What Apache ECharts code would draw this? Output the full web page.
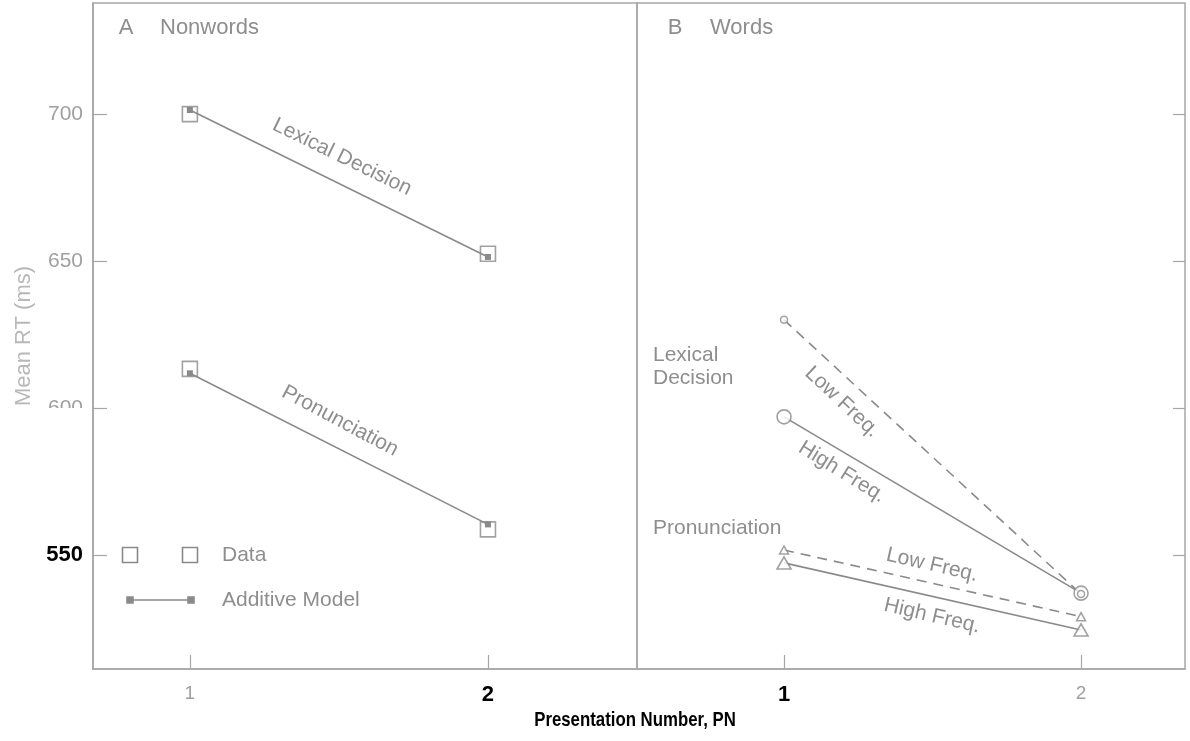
<!DOCTYPE html>
<html>
<head>
<meta charset="utf-8">
<script src="https://cdn.jsdelivr.net/npm/echarts@6/dist/echarts.min.js"></script>
<style>
  html, body { margin: 0; padding: 0; background: #fff; }
  #chart { width: 1190px; height: 741px; }
</style>
</head>
<body>
<div id="chart"></div>
<script>
// Presentation number (x) and RT tick values (y)
const pnTicks = [1, 2];
const rtTicks = [550, 600, 650, 700];

// Panel A – Nonwords: observed means and additive-model predictions
const nwLexicalData  = [700.0, 652.5];
const nwLexicalModel = [701.4, 651.4];
const nwPronData     = [613.3, 558.7];
const nwPronModel    = [611.8, 560.4];

// Panel B – Words: low / high frequency
const wLexicalLow  = [630.0, 536.7];
const wLexicalHigh = [597.0, 537.0];
const wPronLow     = [551.7, 529.0];
const wPronHigh    = [547.3, 524.5];

const pts = arr => arr.map((v, i) => [pnTicks[i], v]);

const LINE = '#8a8a8a';
const TEXT = '#8e8e8e';
const FRAME = '#a6a6a6';
const FONT = '"Liberation Sans", Arial, sans-serif';

const chart = echarts.init(document.getElementById('chart'));

function gridAxisX(idx, min, max, boldVal) {
  return {
    type: 'value', gridIndex: idx, min: min, max: max,
    axisLine: { show: true, lineStyle: { color: FRAME, width: 1.5 } },
    axisTick: { show: true, inside: true, length: 14, customValues: pnTicks,
                lineStyle: { color: FRAME, width: 1.2 } },
    axisLabel: {
      customValues: pnTicks, margin: 15,
      formatter: v => (v === boldVal ? '{b|' + v + '}' : '{g|' + v + '}'),
      rich: {
        g: { color: '#a0a0a0', fontSize: 19, fontFamily: FONT },
        b: { color: '#000', fontSize: 22, fontWeight: 'bold', fontFamily: FONT }
      }
    },
    splitLine: { show: false }
  };
}

const yMin = 511.2, yMax = 737.8;

const option = {
  backgroundColor: '#fff',
  animation: false,
  grid: [
    { left: 93, top: 3, width: 544, height: 666, show: true, borderColor: FRAME, borderWidth: 1.5 },
    { left: 637, top: 3, width: 548, height: 666, show: true, borderColor: FRAME, borderWidth: 1.5 }
  ],
  xAxis: [
    gridAxisX(0, 0.675, 2.5, 2),
    gridAxisX(1, 0.505, 2.35, 1)
  ],
  yAxis: [
    {
      type: 'value', gridIndex: 0, min: yMin, max: yMax, position: 'left',
      name: 'Mean RT (ms)', nameLocation: 'middle', nameGap: 58,
      nameTextStyle: { color: '#b8b8b8', fontSize: 22, fontFamily: FONT },
      axisLine: { show: true, lineStyle: { color: FRAME, width: 1.5 } },
      axisTick: { show: true, inside: true, length: 14, customValues: rtTicks,
                  lineStyle: { color: FRAME, width: 1.2 } },
      axisLabel: {
        customValues: rtTicks, margin: 10,
        formatter: v => (v === 550 ? '{b|' + v + '}' : '{g|' + v + '}'),
        rich: {
          g: { color: '#a0a0a0', fontSize: 21, fontFamily: FONT },
          b: { color: '#000', fontSize: 22, fontWeight: 'bold', fontFamily: FONT }
        }
      },
      splitLine: { show: false }
    },
    {
      type: 'value', gridIndex: 1, min: yMin, max: yMax, position: 'right',
      axisLine: { show: false },
      axisTick: { show: true, inside: true, length: 12, customValues: rtTicks,
                  lineStyle: { color: FRAME, width: 1.2 } },
      axisLabel: { show: false },
      splitLine: { show: false }
    }
  ],
  series: [
    // Panel A: additive model lines with small filled squares
    { type: 'line', xAxisIndex: 0, yAxisIndex: 0, data: pts(nwLexicalModel),
      symbol: 'rect', symbolSize: 6, showSymbol: true, z: 2,
      lineStyle: { color: LINE, width: 1.6 }, itemStyle: { color: LINE } },
    { type: 'line', xAxisIndex: 0, yAxisIndex: 0, data: pts(nwPronModel),
      symbol: 'rect', symbolSize: 6, showSymbol: true, z: 2,
      lineStyle: { color: LINE, width: 1.6 }, itemStyle: { color: LINE } },
    // Panel A: observed data, open squares
    { type: 'scatter', xAxisIndex: 0, yAxisIndex: 0, data: pts(nwLexicalData),
      symbol: 'rect', symbolSize: 15, z: 3,
      itemStyle: { color: 'rgba(0,0,0,0)', borderColor: LINE, borderWidth: 1.6 } },
    { type: 'scatter', xAxisIndex: 0, yAxisIndex: 0, data: pts(nwPronData),
      symbol: 'rect', symbolSize: 15, z: 3,
      itemStyle: { color: 'rgba(0,0,0,0)', borderColor: LINE, borderWidth: 1.6 } },

    // Panel B: lexical decision
    { type: 'line', xAxisIndex: 1, yAxisIndex: 1, data: pts(wLexicalLow),
      showSymbol: false, z: 2, lineStyle: { color: LINE, width: 1.6, type: [10, 7] } },
    { type: 'line', xAxisIndex: 1, yAxisIndex: 1, data: pts(wLexicalHigh),
      showSymbol: false, z: 2, lineStyle: { color: LINE, width: 1.6 } },
    { type: 'scatter', xAxisIndex: 1, yAxisIndex: 1, data: pts(wLexicalHigh),
      symbol: 'circle', symbolSize: 14, z: 3,
      itemStyle: { color: '#fff', borderColor: LINE, borderWidth: 1.6 } },
    { type: 'scatter', xAxisIndex: 1, yAxisIndex: 1, data: pts(wLexicalLow),
      symbol: 'circle', symbolSize: 7, z: 4,
      itemStyle: { color: '#fff', borderColor: LINE, borderWidth: 1.5 } },

    // Panel B: pronunciation
    { type: 'line', xAxisIndex: 1, yAxisIndex: 1, data: pts(wPronLow),
      showSymbol: false, z: 2, lineStyle: { color: LINE, width: 1.6, type: [10, 7] } },
    { type: 'line', xAxisIndex: 1, yAxisIndex: 1, data: pts(wPronHigh),
      showSymbol: false, z: 2, lineStyle: { color: LINE, width: 1.6 } },
    { type: 'scatter', xAxisIndex: 1, yAxisIndex: 1, data: pts(wPronHigh),
      symbol: 'triangle', symbolSize: [14, 12], z: 3,
      itemStyle: { color: '#fff', borderColor: LINE, borderWidth: 1.6 } },
    { type: 'scatter', xAxisIndex: 1, yAxisIndex: 1, data: pts(wPronLow),
      symbol: 'triangle', symbolSize: [9, 8], z: 4,
      itemStyle: { color: '#fff', borderColor: LINE, borderWidth: 1.5 } }
  ]
};

chart.setOption(option);

// Annotations, panel labels and the legend
function label(text, x, y, deg, opts) {
  opts = opts || {};
  return {
    type: 'text', x: x, y: y, rotation: -(deg || 0) * Math.PI / 180, z: 10,
    scaleX: opts.scaleX || 1,
    style: {
      text: text, fill: opts.fill || TEXT,
      font: (opts.weight || 'normal') + ' ' + (opts.size || 21) + 'px ' + FONT,
      align: opts.align || 'center', verticalAlign: 'middle',
      textAlign: opts.align || 'center', textVerticalAlign: 'middle'
    }
  };
}

const box = (cx, cy, s, filled) => ({
  type: 'rect', z: 10,
  shape: { x: cx - s / 2, y: cy - s / 2, width: s, height: s },
  style: { fill: filled ? LINE : 'none', stroke: LINE, lineWidth: 1.6 }
});

chart.setOption({
  graphic: [
    // the lower half of the 600 tick label is hidden in the printed figure
    { type: 'rect', z: 20, shape: { x: 30, y: 408, width: 58, height: 14 },
      style: { fill: '#fff' } },

    label('A', 126, 28, 0, { size: 22 }),
    label('Nonwords', 160, 28, 0, { align: 'left', size: 22 }),
    label('B', 675, 28, 0, { size: 22 }),
    label('Words', 710, 28, 0, { align: 'left', size: 22 }),

    label('Lexical Decision', 342, 157, 26),
    label('Pronunciation', 340, 421, 28),

    label('Lexical', 653, 355, 0, { align: 'left' }),
    label('Decision', 653, 378, 0, { align: 'left' }),
    label('Pronunciation', 653, 528, 0, { align: 'left' }),

    label('Low Freq.', 842, 402, 43),
    label('High Freq.', 842, 472, 32),
    label('Low Freq.', 932, 565, 13),
    label('High Freq.', 932, 616, 13),

    // legend
    box(130, 555, 15, false),
    box(190, 555, 15, false),
    label('Data', 222, 555, 0, { align: 'left' }),
    { type: 'line', z: 10, shape: { x1: 130, y1: 600, x2: 191, y2: 600 },
      style: { stroke: LINE, lineWidth: 1.6 } },
    box(130, 600, 6, true),
    box(191, 600, 6, true),
    label('Additive Model', 222, 600, 0, { align: 'left' }),

    // x-axis title, condensed bold
    label('Presentation Number, PN', 635, 720, 0,
      { fill: '#000', weight: 'bold', size: 20, scaleX: 0.84 })
  ]
});
</script>
</body>
</html>
